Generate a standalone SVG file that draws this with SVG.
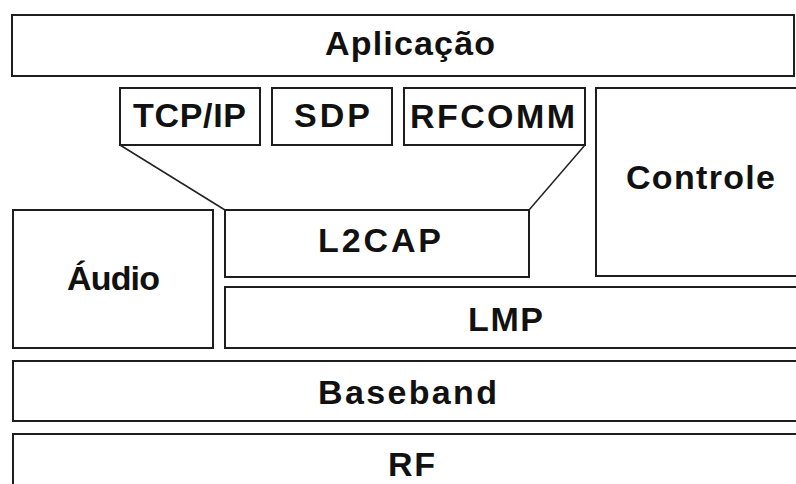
<svg xmlns="http://www.w3.org/2000/svg" width="796" height="484" viewBox="0 0 796 484">
<style>
.box{fill:#ffffff;stroke:#1e1e1e;stroke-width:2}
.lbl{font-family:"Liberation Sans",Arial,sans-serif;font-weight:bold;font-size:34px;fill:#111;text-anchor:start}
.conn{stroke:#222;stroke-width:1.5;fill:none}
</style>
<rect x="0" y="0" width="796" height="484" fill="#ffffff"/>
<g id="aplicacao"><rect class="box" x="12" y="15" width="782" height="61"/><text class="lbl" x="325" y="55" textLength="170" lengthAdjust="spacing">Aplicação</text></g>
<g id="tcpip"><rect class="box" x="120" y="88" width="140" height="57"/><text class="lbl" x="133" y="127" textLength="113" lengthAdjust="spacing">TCP/IP</text></g>
<g id="sdp"><rect class="box" x="272" y="88" width="120" height="57"/><text class="lbl" x="294" y="127" textLength="76" lengthAdjust="spacing">SDP</text></g>
<g id="rfcomm"><rect class="box" x="404" y="88" width="181" height="57"/><text class="lbl" x="410" y="128" textLength="165" lengthAdjust="spacing">RFCOMM</text></g>
<g id="controle"><rect class="box" x="596" y="88" width="206" height="188"/><text class="lbl" x="626" y="189" textLength="149" lengthAdjust="spacing">Controle</text></g>
<g id="audio"><rect class="box" x="13" y="210" width="200" height="138"/><text class="lbl" x="67" y="290" textLength="93" lengthAdjust="spacing">Áudio</text></g>
<g id="l2cap"><rect class="box" x="225" y="210" width="304" height="67"/><text class="lbl" x="318" y="252" textLength="123" lengthAdjust="spacing">L2CAP</text></g>
<g id="lmp"><rect class="box" x="225" y="287" width="577" height="61"/><text class="lbl" x="468" y="331" textLength="75" lengthAdjust="spacing">LMP</text></g>
<g id="baseband"><rect class="box" x="13" y="361" width="789" height="60"/><text class="lbl" x="318" y="404" textLength="179" lengthAdjust="spacing">Baseband</text></g>
<g id="rf"><rect class="box" x="13" y="434" width="789" height="60"/><text class="lbl" x="388" y="476" textLength="47" lengthAdjust="spacing">RF</text></g>
<g id="connectors">
<line class="conn" x1="120" y1="145" x2="225" y2="210"/>
<line class="conn" x1="585" y1="145" x2="529" y2="210"/>
</g>
</svg>
